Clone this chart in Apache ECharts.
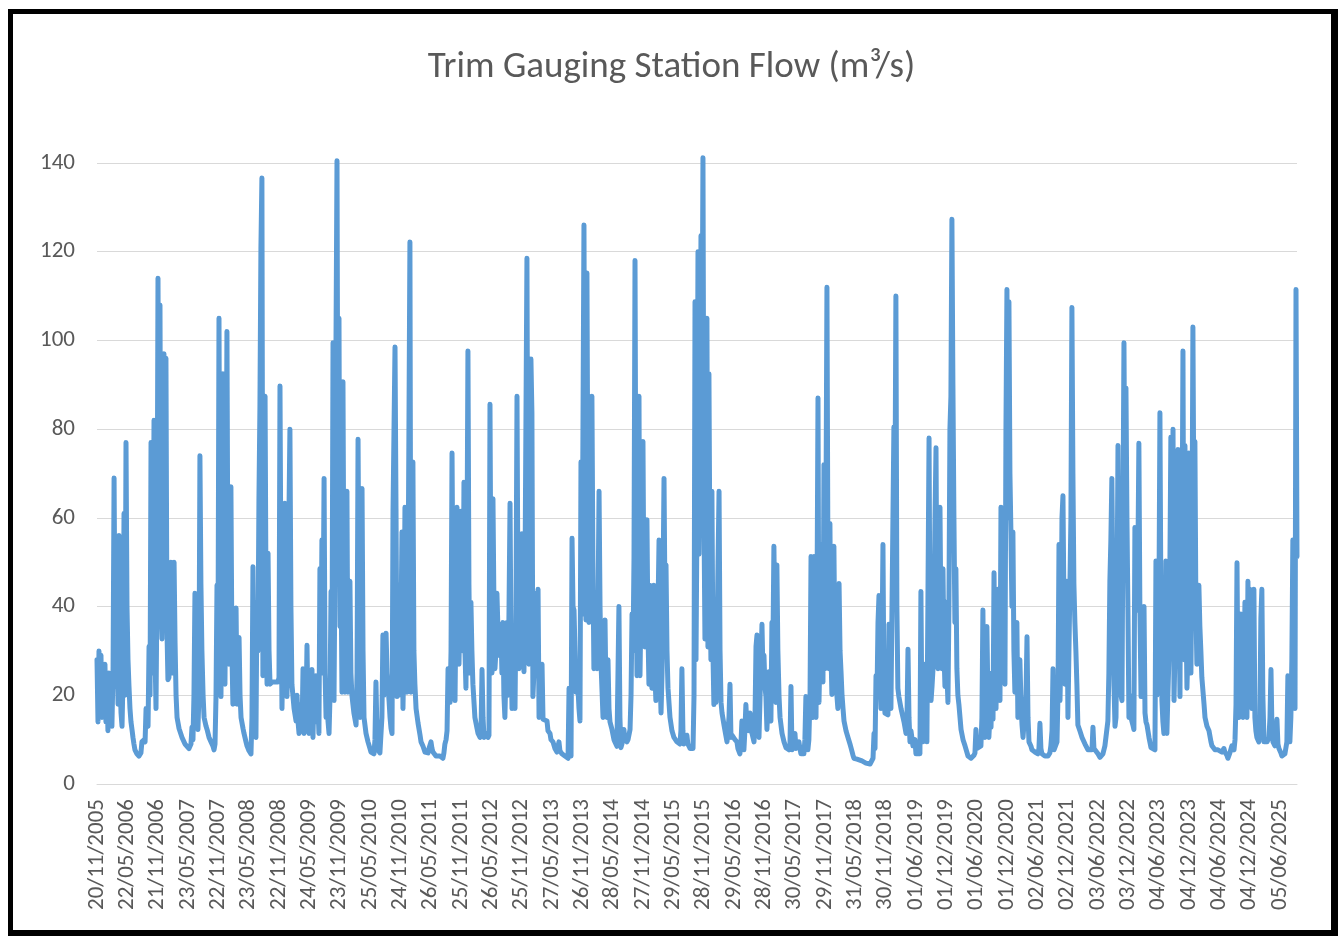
<!DOCTYPE html>
<html>
<head>
<meta charset="utf-8">
<script src="https://cdn.jsdelivr.net/npm/echarts@6/dist/echarts.min.js"></script>
<style>
  html, body { margin: 0; padding: 0; background: #ffffff; }
  #chart { width: 1343px; height: 938px; }
  #frame { position: absolute; left: 8px; top: 9px; width: 1330px; height: 927px; box-sizing: border-box;
           border: 5px solid #000; border-right-width: 7px; border-bottom-width: 6px; pointer-events: none; }
</style>
</head>
<body>
<div id="chart"></div>
<div id="frame"></div>
<script>
// Axis definition: day offsets counted from the first category date
const axisStartDate = [2005, 11, 20];      // 20/11/2005
const labelStepDays = 183;                  // one date label every 183 days
const lastDay = 7240;                       // last daily value shown
const yTicks = [0, 20, 40, 60, 80, 100, 120, 140];

// Daily flow (m3/s): [day offset from 20/11/2005, flow]
const flowNov05toJul07 = [[0,28],[6,14],[12,30],[18,16],[24,29],[30,15],[36,26],[42,18],[48,27],[54,14],[60,23],[66,12],[72,25],[78,13],[84,22],[90,13],[97,26],[103,69],[109,32],[115,22],[121,30],[127,18],[133,56],[139,24],[145,16],[151,13],[157,24],[163,61],[169,20],[175,77],[181,40],[187,28],[193,22],[199,17],[205,14],[211,12.3],[217,10.5],[223,9],[229,7.7],[241,6.8],[253,6.3],[265,7],[271,9.5],[284,10],[290,9.5],[296,17],[302,14],[308,13],[314,31],[320,20],[326,77],[332,25],[338,40],[344,82],[350,30],[356,17],[362,45],[368,114],[374,60],[380,108],[386,40],[392,32.7],[398,60],[404,97],[410,45],[416,96],[422,35],[428,23.5],[434,24],[440,35],[446,50],[452,30],[459,25],[465,50],[471,31.8],[477,20],[483,15],[495,12.5],[513,10.5],[531,9],[555,8],[567,9],[573,12.8],[579,10],[585,20],[591,43]];
const flowJul07toMar09 = [[597,25],[603,14],[609,12.3],[615,20],[621,74],[627,45],[633,30],[640,20],[646,15],[658,13],[664,12.3],[676,10.5],[688,9.5],[700,8.5],[706,7.7],[712,9],[718,19.7],[724,44.8],[730,30],[736,105],[742,40],[748,19.7],[754,50],[760,92.5],[766,40],[772,22.5],[778,50],[784,102],[790,45],[796,27],[802,35],[808,67],[814,30],[820,18],[827,25],[833,35],[839,39.7],[845,18],[851,25],[857,33],[863,20],[869,15],[881,12.5],[887,11.4],[899,9.5],[905,8.6],[917,7.5],[929,6.8],[935,15],[941,49],[947,20],[953,12],[959,10.5],[965,41],[971,30],[977,64],[983,85],[989,120.8],[995,136.6],[1001,24.4],[1008,50],[1014,87.4],[1020,40],[1026,22.5],[1032,52],[1038,30],[1044,22.5],[1056,23],[1074,23],[1092,23],[1098,24],[1104,89.7],[1110,45],[1116,17],[1122,30],[1128,45],[1134,63.3],[1140,35],[1146,19.7],[1152,30],[1158,60],[1164,80],[1170,40],[1176,22.5],[1189,17],[1201,14.2]];
const flowMar09toNov10 = [[1207,20],[1213,14],[1219,11.4],[1225,14],[1231,18],[1237,12],[1243,26],[1249,11.4],[1255,20],[1261,16],[1267,31.3],[1273,16],[1279,11.4],[1285,20],[1291,16],[1297,25.8],[1303,10.5],[1309,20],[1315,15],[1321,24.4],[1327,14],[1333,18],[1339,11.4],[1345,48.5],[1351,25],[1357,55],[1363,30],[1370,68.9],[1376,25],[1382,15],[1388,20],[1394,14],[1400,11.4],[1406,20],[1412,43.4],[1418,30],[1424,99.5],[1430,18.8],[1436,50],[1442,100],[1448,140.5],[1454,60],[1460,105],[1466,35.5],[1472,50],[1478,20.7],[1484,90.7],[1490,40],[1496,20.7],[1502,35],[1508,66],[1514,20.7],[1520,30],[1526,45.7],[1532,25],[1538,20],[1544,18],[1550,16],[1563,13.3],[1569,25],[1575,77.7],[1581,40],[1587,15],[1593,30],[1599,66.6],[1605,30],[1611,15],[1623,11.4],[1635,9.5],[1647,8],[1653,7.2],[1665,7],[1671,6.8],[1677,10],[1683,23],[1689,12],[1695,7.7],[1707,7],[1713,6.8],[1719,15],[1725,33.6],[1731,20],[1738,25],[1744,34],[1750,25],[1756,22],[1762,18.8],[1768,15],[1774,12.5],[1780,11.4],[1786,61.5],[1792,80],[1798,98.5],[1804,62],[1810,19.7],[1816,45],[1822,20]];
const flowNov10toJul12 = [[1828,19.7],[1834,35],[1840,56.8],[1846,17],[1852,30],[1858,62.4],[1864,40],[1870,20.7],[1876,40],[1882,80],[1888,122.2],[1894,20.7],[1900,40],[1906,72.6],[1912,30],[1918,22.5],[1925,17],[1937,13.7],[1949,11],[1955,9.5],[1967,8.5],[1979,7.2],[1997,7],[2003,8],[2009,7.7],[2015,9.5],[2021,8],[2027,7.2],[2045,6.3],[2069,6.3],[2087,5.8],[2093,7],[2099,9],[2106,10],[2112,12],[2118,26],[2124,20],[2130,18.4],[2136,30],[2142,74.6],[2148,40],[2154,25],[2160,18.8],[2166,40],[2172,62.4],[2178,35],[2184,27],[2190,40],[2196,61.5],[2202,45],[2208,30],[2214,68],[2220,30],[2226,21.6],[2232,50],[2238,97.6],[2244,45],[2250,25],[2256,41],[2262,30],[2268,22.5],[2280,15],[2293,12.5],[2299,11.4],[2311,10.5],[2317,12],[2323,25.8],[2329,15],[2335,10.5],[2347,11.4],[2359,10.5],[2365,11],[2371,85.6],[2377,40],[2383,25],[2389,64.3],[2395,40],[2401,26],[2407,30],[2413,43],[2419,35],[2425,29],[2437,36]];
const flowJul12toFeb14 = [[2443,25],[2449,36.4],[2455,20],[2461,15],[2467,25],[2474,36.4],[2480,20],[2486,40],[2492,63.3],[2498,30],[2504,17],[2510,19.7],[2516,30],[2522,17],[2528,40],[2534,87.4],[2540,40],[2546,26],[2552,35],[2558,45],[2564,56.4],[2570,35],[2576,25.3],[2582,45],[2588,45],[2594,118.5],[2600,50],[2606,27],[2612,60],[2618,95.8],[2624,83.7],[2630,19.7],[2636,25],[2642,30],[2649,43],[2655,30],[2661,43.9],[2667,15],[2673,20],[2679,25],[2685,27],[2691,14.6],[2703,15],[2715,14.2],[2721,12],[2733,11.4],[2739,10],[2751,9.5],[2763,8],[2775,7.2],[2781,7.5],[2787,9.5],[2793,7.5],[2805,6.8],[2823,6.3],[2842,5.8],[2848,21.6],[2854,8],[2860,6.3],[2866,55.4],[2872,40],[2878,39.2],[2884,30],[2890,20.7],[2896,25],[2902,21.6],[2908,17],[2914,14.2],[2920,72.6],[2926,38.3],[2932,80],[2938,126],[2944,60],[2950,37],[2956,115.2],[2962,60],[2968,36.4],[2974,50],[2980,70],[2986,87.4],[2992,50],[2998,26],[3004,40],[3010,30],[3017,26],[3023,40],[3029,66],[3035,40],[3041,27],[3053,15]];
const flowFeb14toDec15 = [[3059,15],[3065,37],[3071,20],[3077,15],[3083,28],[3089,17],[3095,14],[3107,12.3],[3119,10],[3125,9.5],[3137,8.5],[3143,8.2],[3149,40],[3155,15],[3161,8.2],[3167,9],[3179,12.3],[3185,10],[3197,9.5],[3204,10],[3216,12.3],[3222,20],[3228,38.3],[3234,30],[3240,51.3],[3246,118],[3252,50],[3258,24.4],[3264,40],[3270,87.4],[3276,24.4],[3282,40],[3288,60],[3294,77.2],[3300,40],[3306,30.9],[3312,40],[3318,59.6],[3324,35],[3330,22.5],[3336,44.8],[3342,30],[3348,21.6],[3354,30],[3360,44.8],[3366,25],[3372,18.8],[3378,30],[3385,40],[3391,55],[3397,25],[3403,16],[3409,25],[3415,45],[3421,68.9],[3427,40],[3433,49.4],[3439,30],[3445,21.6],[3457,15],[3469,12],[3481,10.5],[3499,9.5],[3517,9],[3523,12],[3529,26],[3535,12],[3541,9],[3547,9.5],[3559,11],[3565,9],[3572,8.5],[3578,8],[3590,7.7],[3596,8],[3602,20],[3608,108.7],[3614,28],[3620,60],[3626,120],[3632,51.8],[3638,80],[3644,123.6],[3650,90],[3656,141.2],[3662,60],[3668,32.7]];
const flowDec15toAug17 = [[3674,80],[3680,105],[3686,30.9],[3692,92.5],[3698,50],[3704,28],[3710,66],[3716,30],[3722,17.9],[3728,25],[3734,18.4],[3740,30],[3747,50],[3753,66],[3759,30],[3765,18.4],[3771,16],[3783,13.3],[3789,12],[3801,9.5],[3807,12],[3813,15],[3819,22.5],[3825,10.5],[3831,11],[3843,11.4],[3849,10],[3861,9.5],[3867,8],[3879,6.8],[3885,9],[3891,14.2],[3897,10],[3903,7.7],[3909,12],[3915,17.9],[3921,13.3],[3928,15],[3934,12],[3940,16],[3946,13],[3952,11.4],[3964,9.5],[3970,15],[3976,31],[3982,33.6],[3988,15],[3994,10.5],[4006,10.5],[4012,36],[4018,25],[4024,29],[4030,22],[4036,19.7],[4042,12.3],[4048,18],[4054,25.3],[4060,15],[4066,14.2],[4072,36.4],[4078,30],[4084,53.6],[4090,35],[4096,18.4],[4102,49.4],[4108,30],[4115,19.7],[4121,15],[4133,11.4],[4145,9.5],[4157,8.2],[4175,7.7],[4181,9],[4187,22],[4193,7.7],[4205,9],[4211,11.4],[4217,8],[4223,7.7],[4235,9.5],[4241,8],[4247,6.8],[4265,6.8],[4271,10],[4277,19.7]];
const flowAug17toMar19 = [[4283,12],[4289,7.7],[4295,10],[4302,20],[4308,51.3],[4314,25],[4320,15],[4326,51.3],[4332,25],[4338,15],[4344,40],[4350,87],[4356,18.4],[4362,30],[4368,54],[4374,30],[4380,23],[4386,72],[4392,26],[4398,60],[4404,112],[4410,50],[4416,26],[4422,58.7],[4428,30],[4434,20.2],[4440,30],[4446,53.6],[4452,30],[4458,23],[4464,20],[4470,17],[4477,45.2],[4483,30],[4489,25.3],[4495,20],[4501,17],[4507,14.2],[4519,12],[4531,10.5],[4543,9],[4549,8.2],[4561,6.5],[4567,5.8],[4585,5.6],[4597,5.4],[4615,5.2],[4627,4.9],[4639,4.7],[4651,4.5],[4664,4.5],[4670,4.9],[4676,4.6],[4682,5.8],[4688,11.4],[4694,8],[4700,24.4],[4706,20],[4712,36.4],[4718,42.5],[4724,25],[4730,17],[4736,30],[4742,54],[4748,20],[4754,16],[4760,15.6],[4772,15.6],[4778,36],[4784,20],[4790,17],[4802,17],[4808,80.5],[4814,60],[4820,110],[4826,40],[4832,21.6],[4838,19.7],[4851,17],[4863,15],[4869,14],[4881,11.4],[4887,15],[4893,30.4]];
const flowMar19toDec20 = [[4899,15],[4905,9.5],[4911,12],[4923,8.6],[4935,10],[4941,6.8],[4953,7],[4965,6.8],[4971,43.4],[4977,15],[4983,9.5],[4989,12],[4995,27],[5001,15],[5007,9.5],[5013,40],[5020,78],[5026,30],[5032,18.8],[5038,22],[5044,26],[5050,40],[5056,60],[5062,75.8],[5068,35],[5074,26],[5080,45],[5086,62.4],[5092,35],[5098,26],[5104,48.5],[5110,30],[5116,22],[5122,41],[5128,25],[5134,18.4],[5140,40],[5146,80],[5152,87.4],[5158,127.3],[5164,90],[5170,60.5],[5176,36.4],[5182,48.5],[5188,26],[5194,20],[5200,18],[5213,12.3],[5225,10],[5237,8.6],[5255,6.3],[5273,5.8],[5291,6.5],[5297,7],[5303,12.3],[5309,8],[5315,7.7],[5333,8.6],[5339,15],[5345,39.2],[5351,15],[5357,10.5],[5363,20],[5369,35.5],[5375,20],[5381,10.5],[5387,15],[5394,12.8],[5400,25],[5406,14.6],[5412,47.6],[5418,25],[5424,17],[5430,30],[5436,43.9],[5442,25],[5448,18.8],[5454,62.4],[5460,55],[5466,30],[5472,45],[5478,22.5],[5484,80],[5490,111.5],[5496,60],[5502,108.7],[5508,70],[5514,56.8]];
const flowDec20toJul22 = [[5520,40],[5526,56.8],[5532,30],[5538,20.7],[5544,25],[5550,36.4],[5556,15],[5562,20],[5568,28],[5575,18],[5581,13.3],[5587,10.5],[5599,10.5],[5605,20],[5611,33.2],[5617,15],[5623,9.5],[5635,8.5],[5641,7.7],[5659,7.2],[5677,6.8],[5683,8],[5689,13.7],[5695,8],[5701,6.8],[5719,6.3],[5737,6.3],[5749,7],[5755,8.6],[5762,12],[5768,26],[5774,7.7],[5786,8],[5792,9.5],[5798,20],[5804,54],[5810,18.8],[5816,30],[5822,60],[5828,65],[5834,40],[5840,22.5],[5846,30],[5852,45.7],[5858,15],[5870,15],[5876,60],[5882,107.4],[5888,70],[5894,45],[5900,36.4],[5906,30],[5912,22.5],[5918,13.3],[5930,12],[5943,10.5],[5961,9],[5979,7.7],[5991,8],[6003,7.7],[6009,12.8],[6015,8],[6021,7.7],[6039,6.8],[6051,6],[6063,5.8],[6069,6.8],[6081,8.6],[6093,8.6],[6099,14.2],[6105,25],[6111,45.7],[6117,55],[6123,68.9]];
const flowJul22toMar24 = [[6130,40],[6136,22],[6142,13],[6148,15],[6154,40],[6160,76.3],[6166,40],[6172,25],[6178,20],[6184,18.8],[6190,60],[6196,99.5],[6202,60],[6208,89.3],[6214,60],[6220,39.2],[6226,15],[6232,20],[6238,15],[6250,13.3],[6256,12.3],[6262,57.8],[6268,40],[6274,39.2],[6280,50],[6286,76.8],[6292,40],[6299,19.7],[6305,25],[6311,30],[6317,40],[6323,16],[6329,14],[6335,13.3],[6347,10.5],[6359,8.2],[6371,8],[6383,7.7],[6389,50.3],[6395,20],[6401,36.4],[6407,40],[6413,83.7],[6419,40],[6425,18.8],[6431,14],[6437,11.4],[6443,25],[6449,50.3],[6455,11.4],[6461,20],[6467,28],[6473,48.5],[6479,78.2],[6486,40],[6492,80],[6498,18.8],[6504,30],[6510,50.3],[6516,50],[6522,75.4],[6528,40],[6534,19.7],[6540,75.4],[6546,50],[6552,97.6],[6558,28],[6564,76.3],[6570,40],[6576,21.6],[6582,30],[6588,74.6],[6594,40],[6600,25],[6606,50],[6612,103],[6618,60],[6624,77.2],[6630,40],[6636,27],[6642,30],[6648,44.8],[6654,35.5],[6660,30],[6666,24],[6679,18],[6685,15],[6697,13],[6709,12],[6721,9.5],[6727,8.6],[6739,8.6],[6745,7.7]];
const flowMar24toSep25 = [[6763,7.7],[6775,8],[6787,7.2],[6799,8],[6805,7.2],[6817,6.5],[6823,5.8],[6835,7],[6847,8.6],[6860,7.7],[6866,10],[6872,17.9],[6878,49.9],[6884,20],[6890,15],[6896,25],[6902,38.3],[6908,20],[6914,15],[6920,25],[6926,41],[6932,20],[6938,15],[6944,45.7],[6950,30],[6956,43.9],[6962,25],[6968,17],[6974,30],[6980,43.9],[6986,15],[6992,12],[6998,10.5],[7010,9.5],[7016,15],[7022,37.4],[7028,43.9],[7034,20],[7041,9.5],[7053,9.5],[7059,9.5],[7071,10.5],[7077,15],[7083,25.8],[7089,12],[7095,9.5],[7107,8.6],[7113,9],[7119,14.6],[7125,9],[7131,8],[7143,7],[7149,6.3],[7167,6.8],[7173,7],[7179,9.5],[7185,24.4],[7191,12],[7197,9.5],[7203,15],[7209,28],[7215,55],[7222,20],[7228,17],[7234,111.5],[7240,51.3]];

const flowSeries = [].concat(
  flowNov05toJul07, flowJul07toMar09, flowMar09toNov10, flowNov10toJul12,
  flowJul12toFeb14, flowFeb14toDec15, flowDec15toAug17, flowAug17toMar19,
  flowMar19toDec20, flowDec20toJul22, flowJul22toMar24, flowMar24toSep25
);

const startMs = Date.UTC(axisStartDate[0], axisStartDate[1] - 1, axisStartDate[2]);
function dayLabel(v) {
  if (Math.round(v) % labelStepDays !== 0) return '';
  const d = new Date(startMs + Math.round(v) * 86400000);
  const p = n => (n < 10 ? '0' : '') + n;
  return p(d.getUTCDate()) + '/' + p(d.getUTCMonth() + 1) + '/' + d.getUTCFullYear();
}

const FONT = 'Carlito, Calibri, Lato, sans-serif';
const chart = echarts.init(document.getElementById('chart'), null, { renderer: 'canvas' });
chart.setOption({
  animation: false,
  backgroundColor: '#ffffff',
  title: {
    text: 'Trim Gauging Station Flow (m³/s)',
    left: 'center',
    top: 44,
    textStyle: { fontFamily: FONT, fontSize: 37, fontWeight: 'normal', color: '#595959' }
  },
  grid: { left: 97, right: 46, top: 163, bottom: 154, containLabel: false },
  xAxis: {
    type: 'value',
    min: 0,
    max: lastDay,
    interval: labelStepDays,
    axisLine: { show: true, lineStyle: { color: '#D9D9D9', width: 1 } },
    axisTick: { show: false },
    splitLine: { show: false },
    axisLabel: {
      rotate: 90, margin: 15, fontFamily: FONT, fontSize: 23, color: '#595959',
      showMaxLabel: false, formatter: dayLabel
    }
  },
  yAxis: {
    type: 'value',
    min: yTicks[0],
    max: yTicks[yTicks.length - 1],
    interval: yTicks[1] - yTicks[0],
    axisLine: { show: false },
    axisTick: { show: false },
    splitLine: { lineStyle: { color: '#D9D9D9', width: 1 } },
    axisLabel: { margin: 22, fontFamily: FONT, fontSize: 23, color: '#595959' }
  },
  series: [{
    type: 'line',
    data: flowSeries,
    showSymbol: false,
    clip: false,
    lineStyle: { color: '#5B9BD5', width: 5, cap: 'round', join: 'round' }
  }]
});
</script>
</body>
</html>
